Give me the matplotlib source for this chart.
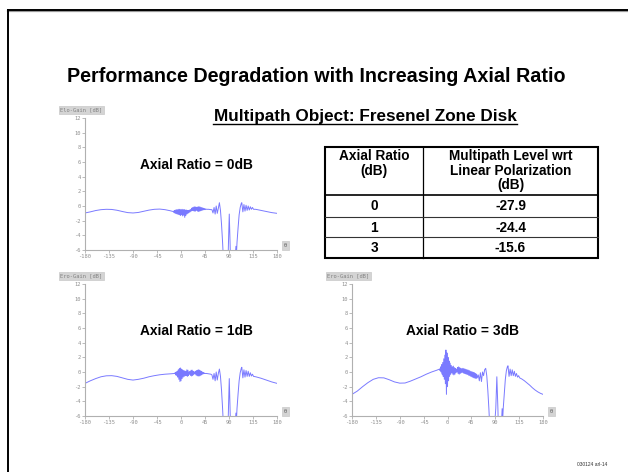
import matplotlib
matplotlib.use("Agg")
import matplotlib.pyplot as plt
from matplotlib.lines import Line2D

# ---------------- data ----------------
theta_ar0 = [-180,-170,-160,-150,-140,-130,-120,-110,-100,-90,-80,-70,-60,-50,-40,-30,-20,-15,
             -14,-13,-12,-11,-10,-9,-8,-7,-6,-5,-4,-3,-2,-1,0,1,2,3,4,5,6,7,8,9,10,11,12,13,14,15,16,17,18,
             19,20,21,22,23,24,25,26,27,28,29,30,31,32,33,34,35,36,37,38,39,40,41,42,43,44,45,46,
             48,52,56,58,60,62,64,66,68,70,72,74,76,78,80,84,88,89,90.5,92,93,100,102,103,104,105,107,109,
             111,113,114,115,116,118,120,122,124,126,128,130,132,134,136,140,150,160,170,180]
gain_ar0 = [-0.95,-0.8,-0.62,-0.5,-0.45,-0.47,-0.58,-0.75,-0.9,-0.95,-0.88,-0.72,-0.56,-0.45,-0.42,-0.5,-0.65,-0.75,
            -0.7,-0.9,-0.6,-1.0,-0.55,-1.05,-0.5,-1.1,-0.5,-1.15,-0.45,-1.2,-0.45,-1.3,-0.5,-1.2,-0.45,-1.35,
            -0.5,-1.25,-0.5,-1.55,-0.55,-1.3,-0.55,-1.1,-0.6,-1.0,-0.6,-0.9,-0.55,-0.8,-0.5,
            -0.7,-0.3,-0.6,-0.2,-0.65,-0.15,-0.7,-0.1,-0.7,-0.15,-0.6,-0.2,-0.7,-0.1,-0.75,-0.1,-0.7,-0.15,
            -0.65,-0.2,-0.6,-0.25,-0.55,-0.3,-0.5,-0.35,-0.5,-0.4,
            -0.45,-0.45,-0.5,-0.5,-0.95,-0.2,-1.1,0.0,-1.0,-0.3,0.45,-0.6,-2.5,-5.0,-8.0,-8.0,-8.0,-5.0,-1.1,-5.0,
            -8.0,-8.0,-6.5,-5.5,-6.5,-5.0,-3.0,-1.2,-0.2,0.35,0.45,-0.2,-0.8,0.2,-0.7,0.1,-0.6,0.0,-0.55,-0.1,
            -0.45,-0.2,-0.45,-0.45,-0.6,-0.75,-0.9,-1.0]

theta_ar1 = [-180,-170,-160,-150,-140,-130,-120,-110,-100,-90,-80,-70,-60,-50,-40,-30,-20,-12,
             -11,-10,-9,-8,-7,-6,-5,-4,-3,-2,-1,0,1,2,3,4,5,6,7,8,
             9,10,11,12,13,14,15,16,17,18,19,20,21,22,23,24,25,26,27,28,29,30,31,32,33,34,35,36,37,38,39,40,
             41,42,43,44,
             48,52,56,58,60,62,64,66,68,70,72,74,76,78,80,84,88,89,90.5,92,93,100,102,103,104,105,107,109,
             111,113,114,115,116,118,120,122,124,126,128,130,132,134,136,140,150,160,170,180]
gain_ar1 = [-1.55,-1.2,-0.9,-0.65,-0.52,-0.5,-0.6,-0.8,-1.0,-1.1,-1.0,-0.85,-0.65,-0.5,-0.38,-0.3,-0.25,-0.2,
            -0.1,-0.4,0.0,-0.5,0.1,-0.7,0.3,-1.0,0.5,-1.3,0.55,-1.2,0.4,-0.9,0.3,-0.7,0.2,-0.6,0.15,-0.5,
            0.1,-0.5,0.3,-0.6,0.25,-0.5,0.0,-0.3,0.1,-0.45,0.25,-0.55,0.25,-0.45,0.1,-0.3,0.0,-0.25,0.1,-0.4,
            0.2,-0.5,0.25,-0.55,0.3,-0.55,0.25,-0.5,0.15,-0.4,0.05,-0.3,-0.05,-0.25,-0.1,-0.2,
            -0.2,-0.25,-0.3,-0.4,-1.0,-0.2,-1.2,0.0,-1.1,-0.2,0.4,-0.6,-2.5,-5.0,-8.0,-8.0,-8.0,-5.0,-0.9,-5.0,
            -8.0,-8.0,-6.5,-5.6,-6.5,-5.0,-3.0,-1.2,-0.1,0.5,0.65,-0.1,-0.8,0.3,-0.7,0.2,-0.6,0.1,-0.6,-0.1,
            -0.55,-0.3,-0.6,-0.65,-0.85,-1.1,-1.35,-1.55]

theta_ar3 = [-180,-170,-160,-150,-140,-130,-120,-110,-100,-90,-80,-70,-60,-50,-40,-30,-20,-15,
             -14,-13,-12,-11,-10,-9,-8,-7,-6,-5,-4,-3,-2,-1,0,1,2,3,4,5,6,7,8,
             9,10,11,12,13,14,15,16,17,18,19,20,21,22,23,24,25,26,27,28,29,30,31,32,33,34,
             35,36,37,38,39,40,41,42,43,44,45,46,47,48,49,50,51,52,53,54,55,56,
             58,60,62,64,66,68,70,72,74,76,78,80,84,88,91,93,95,96,100,102,103,104,105,107,109,
             111,113,114,115,116,118,120,122,124,126,128,130,132,134,136,140,145,150,155,160,165,170,175,180]
gain_ar3 = [-3.05,-2.6,-2.0,-1.45,-1.0,-0.78,-0.8,-1.05,-1.35,-1.52,-1.5,-1.25,-0.95,-0.65,-0.3,0.0,0.25,0.4,
            0.2,0.7,0.0,1.0,-0.3,1.3,-0.6,1.8,-1.0,2.3,-1.6,3.0,-3.05,2.6,-2.0,2.0,-1.2,1.5,-0.6,1.2,-0.3,0.9,-0.1,
            0.7,-0.3,0.8,-0.4,0.6,-0.3,0.5,-0.1,0.4,0.0,0.6,-0.2,0.7,-0.3,0.6,-0.2,0.5,-0.1,0.45,-0.05,0.5,-0.15,
            0.45,-0.2,0.4,-0.25,
            0.35,-0.3,0.3,-0.35,0.25,-0.45,0.2,-0.5,0.1,-0.6,0.05,-0.65,0.0,-0.75,-0.05,-0.8,-0.1,-0.85,-0.2,-0.9,
            -0.3,-0.8,
            -0.4,-1.2,-0.1,-1.3,0.0,-0.5,0.3,0.5,-0.5,-2.5,-5.0,-8.0,-8.0,-8.0,-5.0,-0.65,-5.0,-8.0,-8.0,-6.5,
            -5.0,-6.5,-5.0,-3.0,-1.0,0.2,0.75,0.85,0.1,-0.6,0.4,-0.5,0.3,-0.5,0.1,-0.6,-0.2,-0.7,-0.5,-0.8,
            -0.95,-1.2,-1.5,-1.8,-2.15,-2.45,-2.7,-2.9,-3.05]

x_ticks = [-180, -135, -90, -45, 0, 45, 90, 135, 180]
y_ticks = [-6, -4, -2, 0, 2, 4, 6, 8, 10, 12]

table_header = ["Axial Ratio\n(dB)", "Multipath Level wrt\nLinear Polarization\n(dB)"]
table_axial = ["0", "1", "3"]
table_level = ["-27.9", "-24.4", "-15.6"]

title = "Performance Degradation with Increasing Axial Ratio"
subtitle = "Multipath Object: Fresenel Zone Disk"
footnote = "030124 arl-14"

# ---------------- figure ----------------
W, H = 628, 472
fig = plt.figure(figsize=(W / 100, H / 100), dpi=100)
fig.patch.set_facecolor("white")
BOLD = dict(family=["Liberation Sans", "DejaVu Sans"], fontweight="bold")


def fx(px):
    return px / W


def fy(py):
    return 1 - py / H


# slide frame (top and left)
fig.add_artist(Line2D([fx(8), 1.0], [fy(11), fy(11)], color="#999999", lw=1.6))
fig.add_artist(Line2D([fx(8), 1.0], [fy(10), fy(10)], color="black", lw=1.4))
fig.add_artist(Line2D([fx(8), fx(8)], [fy(10), 0.0], color="black", lw=1.4))

fig.text(fx(316), fy(76), title, ha="center", va="center", fontsize=14.2, color="black", **BOLD)
fig.text(fx(365), fy(116), subtitle, ha="center", va="center", fontsize=12.3, color="black", **BOLD)
fig.add_artist(Line2D([fx(213), fx(517)], [fy(124), fy(124)], color="black", lw=1.0))


def make_plot(left, right, top, bottom, theta, gain, ylab, label):
    ax = fig.add_axes([fx(left), fy(bottom), fx(right) - fx(left), fy(top) - fy(bottom)])
    ax.plot(theta, gain, color="#7a7aff", lw=0.7)
    ax.set_xlim(-180, 180)
    ax.set_ylim(-6, 12)
    ax.set_xticks(x_ticks)
    ax.set_yticks(y_ticks)
    ax.set_xticklabels([str(t) for t in x_ticks])
    ax.set_yticklabels([str(t) for t in y_ticks])
    for s in ["top", "right"]:
        ax.spines[s].set_visible(False)
    for s in ["left", "bottom"]:
        ax.spines[s].set_color("#b0b0b0")
        ax.spines[s].set_linewidth(0.8)
    ax.tick_params(axis="both", length=2, width=0.6, color="#b0b0b0", labelcolor="#909090",
                   labelsize=3.9, pad=1.2)
    for lab in ax.get_xticklabels() + ax.get_yticklabels():
        lab.set_family("DejaVu Sans Mono")
    ax.patch.set_alpha(0)
    ax.text(-0.02, 1.06, ylab, transform=ax.transAxes, ha="center", va="center",
            fontsize=3.9, color="#808080", family="DejaVu Sans Mono",
            bbox=dict(boxstyle="square,pad=0.25", fc="#d4d4d4", ec="#c8c8c8", lw=0.5))
    ax.text(1.045, 0.035, "θ", transform=ax.transAxes, ha="center", va="center",
            fontsize=3.8, color="#606060",
            bbox=dict(boxstyle="square,pad=0.35", fc="#d4d4d4", ec="#c8c8c8", lw=0.5))
    ax.text(0.58, 0.645, label, transform=ax.transAxes, ha="center", va="center",
            fontsize=9.9, color="black", **BOLD)
    return ax


make_plot(85, 277, 118, 250, theta_ar0, gain_ar0, "Elo-Gain [dB]", "Axial Ratio = 0dB")
make_plot(85, 277, 284, 416, theta_ar1, gain_ar1, "Ero-Gain [dB]", "Axial Ratio = 1dB")
make_plot(352, 543, 284, 416, theta_ar3, gain_ar3, "Ero-Gain [dB]", "Axial Ratio = 3dB")

# ---------------- table ----------------
tl, tr, tt, tb = 325, 598, 147, 258
tcol = 423
hdr_bottom = 195
row_lines = [217, 237]
fig.add_artist(plt.Rectangle((fx(tl), fy(tb)), fx(tr) - fx(tl), fy(tt) - fy(tb),
                             fill=False, ec="black", lw=1.5, transform=fig.transFigure))
fig.add_artist(Line2D([fx(tcol), fx(tcol)], [fy(tt), fy(tb)], color="black", lw=0.9))
fig.add_artist(Line2D([fx(tl), fx(tr)], [fy(hdr_bottom), fy(hdr_bottom)], color="black", lw=1.2))
for ry in row_lines:
    fig.add_artist(Line2D([fx(tl), fx(tr)], [fy(ry), fy(ry)], color="#333333", lw=0.8))

fig.text(fx((tl + tcol) / 2), fy(149), table_header[0], ha="center", va="top",
         fontsize=9.8, linespacing=1.05, color="black", **BOLD)
fig.text(fx((tcol + tr) / 2), fy(149), table_header[1], ha="center", va="top",
         fontsize=9.8, linespacing=1.05, color="black", **BOLD)
row_centers = [206.5, 227.5, 248]
for yc, a, v in zip(row_centers, table_axial, table_level):
    fig.text(fx((tl + tcol) / 2), fy(yc), a, ha="center", va="center", fontsize=9.8, color="black", **BOLD)
    fig.text(fx((tcol + tr) / 2), fy(yc), v, ha="center", va="center", fontsize=9.8, color="black", **BOLD)

fig.text(fx(592), fy(465), footnote, ha="center", va="center", fontsize=3.5, color="#333333",
         family="Liberation Sans")

fig.savefig("out.png", dpi=100, facecolor="white")
